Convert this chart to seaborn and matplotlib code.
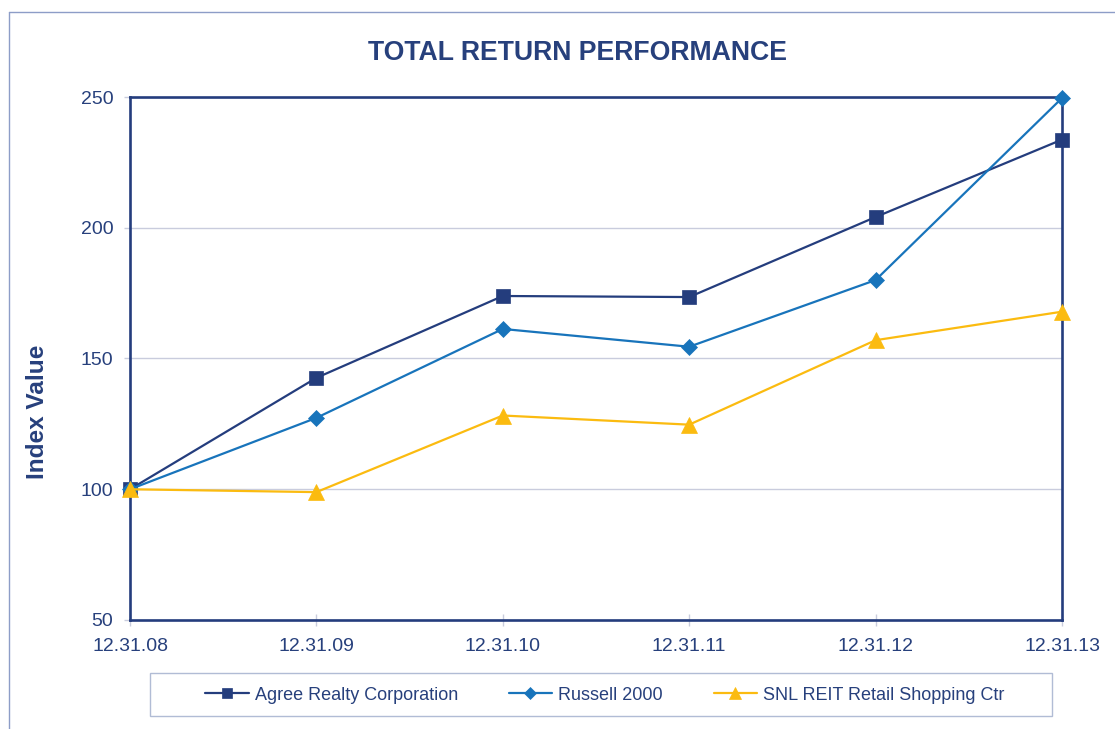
import matplotlib
matplotlib.use("Agg")
import matplotlib.pyplot as plt
from matplotlib.lines import Line2D
from matplotlib.patches import Rectangle
import seaborn as sns
import pandas as pd

# DATA
dates = ["12.31.08", "12.31.09", "12.31.10", "12.31.11", "12.31.12", "12.31.13"]
agree = [100, 142.6, 173.9, 173.5, 204.1, 233.7]
russell = [100, 127.3, 161.3, 154.5, 180.0, 249.6]
snl_reit = [100, 98.9, 128.2, 124.7, 157.0, 167.9]
series_names = ["Agree Realty Corporation", "Russell 2000", "SNL REIT Retail Shopping Ctr"]
y_ticks = [50, 100, 150, 200, 250]

NAVY = "#243d7d"
TEXT = "#27407c"
colors = {"Agree Realty Corporation": NAVY,
          "Russell 2000": "#1874bb",
          "SNL REIT Retail Shopping Ctr": "#fbbb10"}
markers = {"Agree Realty Corporation": ("s", 10),
           "Russell 2000": ("D", 8),
           "SNL REIT Retail Shopping Ctr": ("^", 11)}

df = pd.DataFrame({"date": dates, "Agree Realty Corporation": agree,
                   "Russell 2000": russell, "SNL REIT Retail Shopping Ctr": snl_reit})
long = df.melt(id_vars="date", var_name="series", value_name="value")

sns.set_style("white")
plt.rcParams["font.family"] = ["Liberation Sans", "DejaVu Sans"]

fig = plt.figure(figsize=(11.15, 7.29), dpi=100)
ax = fig.add_axes([130 / 1115, 1 - 620 / 729, 932 / 1115, 523 / 729])

for name in series_names:
    sub = long[long["series"] == name]
    m, ms = markers[name]
    sns.lineplot(data=sub, x="date", y="value", ax=ax, color=colors[name],
                 marker=m, markersize=ms, markeredgecolor=colors[name],
                 markeredgewidth=0.5, linewidth=1.6, sort=False,
                 label=name, clip_on=False, zorder=3)

ax.set_xlim(0, len(dates) - 1)
ax.set_ylim(50, 250)
ax.set_yticks(y_ticks)
ax.yaxis.grid(True, color="#c9ccdd", linewidth=1.0)
ax.xaxis.grid(False)
for s in ax.spines.values():
    s.set_color(NAVY)
    s.set_linewidth(1.9)

ax.tick_params(axis="y", which="major", direction="out", length=4, width=1,
               color="#c9ccdd", pad=8, labelsize=14, labelcolor=TEXT, left=True)
ax.tick_params(axis="x", which="major", direction="inout", length=8, width=1,
               color="#c9ccdd", pad=9, labelsize=14, labelcolor=TEXT, bottom=True)
ax.set_xlabel("")
ax.set_ylabel("Index Value", fontsize=17.6, fontweight="bold", color=TEXT)
ax.yaxis.set_label_coords(-0.087, 0.398)

fig.text(577 / 1115, 1 - 53 / 729, "TOTAL RETURN PERFORMANCE", ha="center", va="center",
         fontsize=19.2, fontweight="bold", color=TEXT)

# legend without frame; frame drawn separately to match the wide box
leg = ax.legend(loc="center", bbox_to_anchor=(605 / 1115, 1 - 695 / 729),
                bbox_transform=fig.transFigure, ncol=3, frameon=False,
                fontsize=13, handlelength=2.4, handletextpad=0.35,
                columnspacing=2.8, labelcolor=TEXT)
for h in leg.legend_handles:
    h.set_markersize(h.get_markersize() * 0.75)

fig.add_artist(Rectangle((150 / 1115, 1 - 716 / 729), 902 / 1115, 43 / 729,
                         transform=fig.transFigure, fill=False,
                         edgecolor="#b1bcd5", linewidth=1.0))

# outer chart border (left and top only are visible)
fig.add_artist(Line2D([9 / 1115, 9 / 1115], [0, 1 - 12 / 729],
                      transform=fig.transFigure, color="#8d9dc7", linewidth=1.0))
fig.add_artist(Line2D([9 / 1115, 1], [1 - 12 / 729, 1 - 12 / 729],
                      transform=fig.transFigure, color="#8d9dc7", linewidth=1.0))

fig.savefig("out.png", dpi=100)
